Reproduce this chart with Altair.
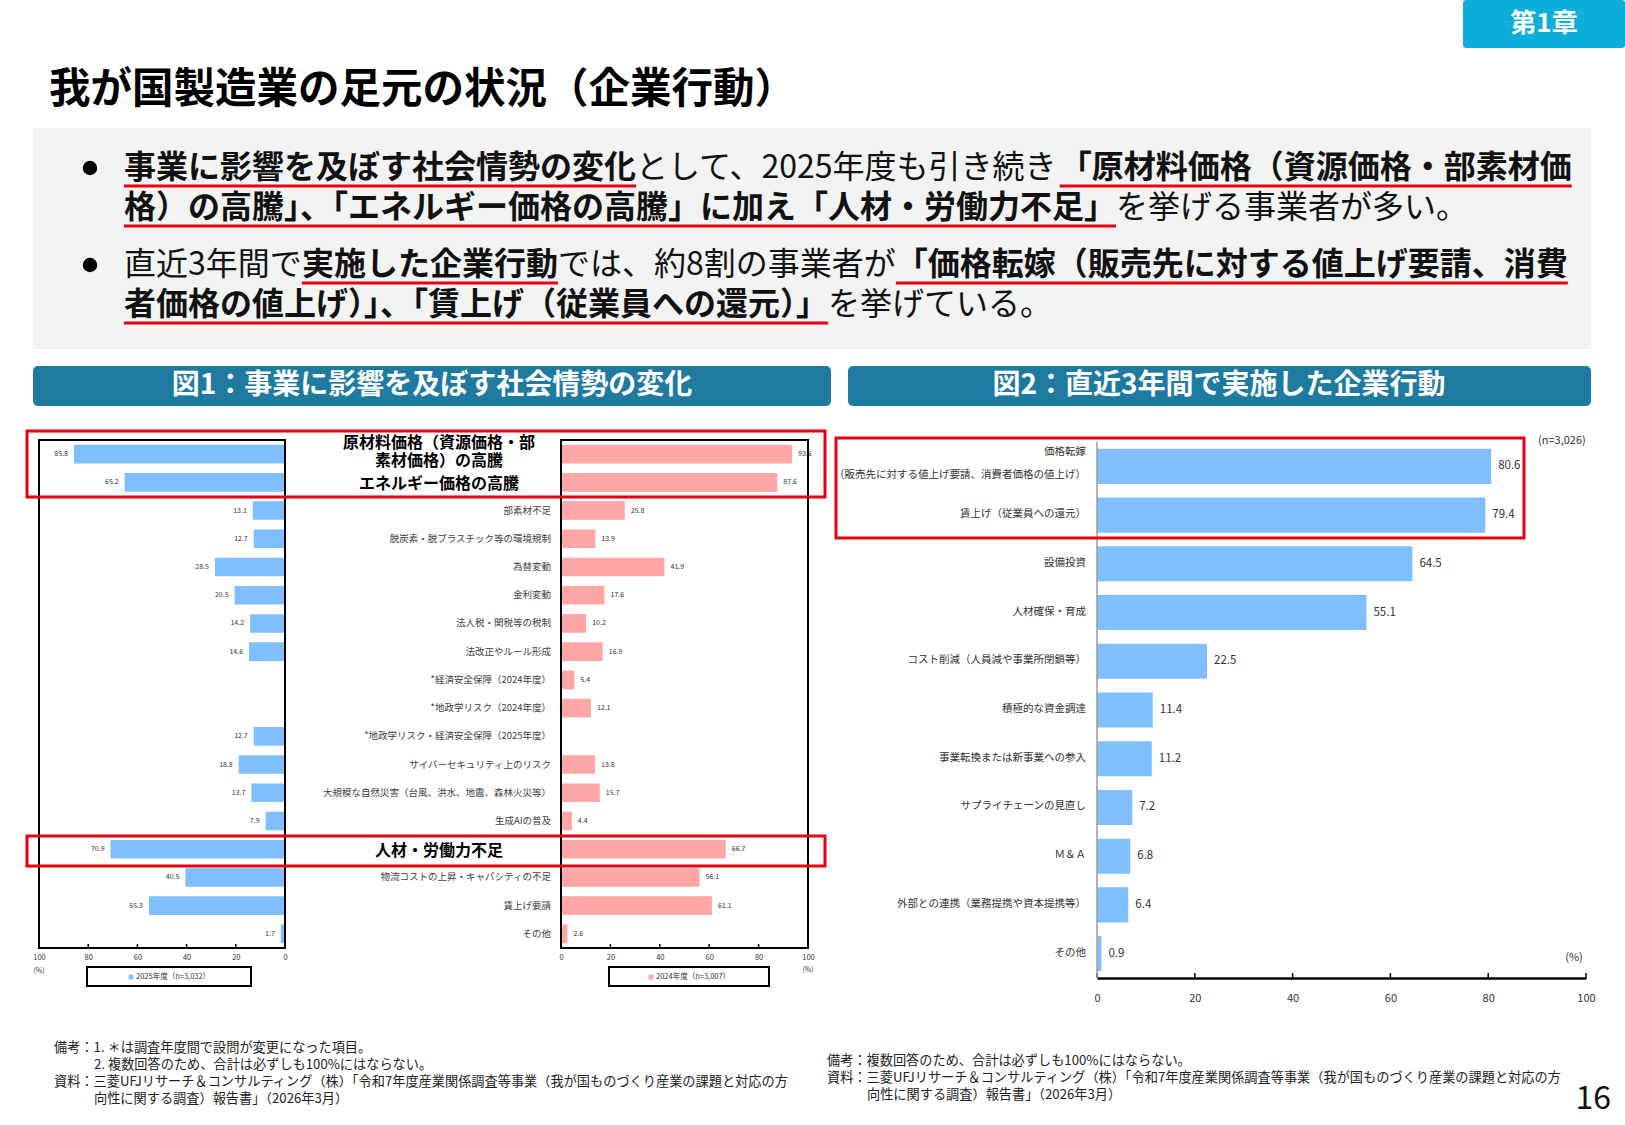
import altair as alt
import pandas as pd

FONT = "Noto Sans CJK JP"
W, H = 1625, 1125

# ---- 図1: 事業に影響を及ぼす社会情勢の変化（%） ----
factors = [
    "原材料価格（資源価格・部素材価格）の高騰",
    "エネルギー価格の高騰",
    "部素材不足",
    "脱炭素・脱プラスチック等の環境規制",
    "為替変動",
    "金利変動",
    "法人税・関税等の税制",
    "法改正やルール形成",
    "*経済安全保障（2024年度）",
    "*地政学リスク（2024年度）",
    "*地政学リスク・経済安全保障（2025年度）",
    "サイバーセキュリティ上のリスク",
    "大規模な自然災害（台風、洪水、地震、森林火災等）",
    "生成AIの普及",
    "人材・労働力不足",
    "物流コストの上昇・キャパシティの不足",
    "賃上げ要請",
    "その他",
]
share_2025 = [85.8, 65.2, 13.1, 12.7, 28.5, 20.5, 14.2, 14.6, None, None,
              12.7, 18.8, 13.7, 7.9, 70.9, 40.5, 55.3, 1.7]
share_2024 = [93.6, 87.6, 25.8, 13.9, 41.9, 17.6, 10.2, 16.9, 5.4, 12.1,
              None, 13.8, 15.7, 4.4, 66.7, 56.1, 61.1, 2.6]
key_factors = ["原材料価格（資源価格・部素材価格）の高騰", "エネルギー価格の高騰", "人材・労働力不足"]
factor_display = {"原材料価格（資源価格・部素材価格）の高騰": "原材料価格（資源価格・部\n素材価格）の高騰"}
legend_2025 = "2025年度（n=3,032）"
legend_2024 = "2024年度（n=3,007）"

# ---- 図2: 直近3年間で実施した企業行動（%） ----
actions = [
    "価格転嫁（販売先に対する値上げ要請、消費者価格の値上げ）",
    "賃上げ（従業員への還元）",
    "設備投資",
    "人材確保・育成",
    "コスト削減（人員減や事業所閉鎖等）",
    "積極的な資金調達",
    "事業転換または新事業への参入",
    "サプライチェーンの見直し",
    "Ｍ＆Ａ",
    "外部との連携（業務提携や資本提携等）",
    "その他",
]
action_share = [80.6, 79.4, 64.5, 55.1, 22.5, 11.4, 11.2, 7.2, 6.8, 6.4, 0.9]
action_display = {actions[0]: "価格転嫁\n（販売先に対する値上げ要請、消費者価格の値上げ）"}
n_actions = "(n=3,026)"

ticks = [0, 20, 40, 60, 80, 100]

# summary bullets: (text, emphasised)
bullet_lines = [
    [("事業に影響を及ぼす社会情勢の変化", True), ("として、2025年度も引き続き", False),
     ("「原材料価格（資源価格・部素材価", True)],
    [("格）の高騰」、「エネルギー価格の高騰」に加え「人材・労働力不足」", True),
     ("を挙げる事業者が多い。", False)],
    [("直近3年間で", False), ("実施した企業行動", True), ("では、約8割の事業者が", False),
     ("「価格転嫁（販売先に対する値上げ要請、消費", True)],
    [("者価格の値上げ）」、「賃上げ（従業員への還元）」", True), ("を挙げている。", False)],
]

BLUE = "#80BFFF"
PINK = "#FFA6A6"
RED = "#E60012"
HEAD = "#1F7AA0"

layers = []
one = pd.DataFrame({"k": [0]})


def text(s, x, y, size, color="#000000", weight="normal", align="left", **kw):
    layers.append(
        alt.Chart(pd.DataFrame({"t": [s]}))
        .mark_text(font=FONT, fontSize=size, fontWeight=weight, color=color,
                   align=align, baseline="middle", **kw)
        .encode(x=alt.value(x), y=alt.value(y), text="t:N")
    )


def rect(x1, y1, x2, y2, fill=None, stroke=None, sw=0, radius=0):
    props = {"cornerRadius": radius}
    if fill is None:
        props.update(fillOpacity=0)
    else:
        props.update(fill=fill)
    if stroke is not None:
        props.update(stroke=stroke, strokeWidth=sw)
    layers.append(
        alt.Chart(one).mark_rect(**props)
        .encode(x=alt.value(x1), x2=alt.value(x2), y=alt.value(y1), y2=alt.value(y2))
    )


def hline(x1, x2, y, color, width):
    layers.append(
        alt.Chart(one).mark_rule(color=color, strokeWidth=width)
        .encode(x=alt.value(x1), x2=alt.value(x2), y=alt.value(y))
    )


def vline(x, y1, y2, color, width):
    layers.append(
        alt.Chart(one).mark_rule(color=color, strokeWidth=width)
        .encode(x=alt.value(x), y=alt.value(y1), y2=alt.value(y2))
    )


OPEN = set("「（『【")
CLOSE = set("」）』】、。")


def em_width(s):
    """Approximate advance of a run in em, with adjacent punctuation trimmed."""
    w = 0.0
    for i, ch in enumerate(s):
        if ord(ch) < 0x2000:
            w += 0.56 if ch.isdigit() else 0.6
        else:
            w += 1.0
        if i + 1 < len(s):
            nxt = s[i + 1]
            if (ch in CLOSE and (nxt in CLOSE or nxt in OPEN)) or (ch in OPEN and nxt in OPEN):
                w -= 0.5
    return w


# ---- page header ----
rect(1463, 0, 1625, 48, fill="#0DAEDA", radius=3)
text("第1章", 1544, 24, 26, color="white", weight="bold", align="center")
text("我が国製造業の足元の状況（企業行動）", 49, 91, 41.5, weight="bold")

# ---- summary box ----
rect(33, 128, 1591, 349, fill="#F2F3F3")
BFS = 32
for i, (line, y) in enumerate(zip(bullet_lines, [168, 208, 265, 305])):
    if i in (0, 2):
        layers.append(
            alt.Chart(one).mark_circle(color="black", opacity=1, size=210)
            .encode(x=alt.value(90), y=alt.value(y))
        )
    x = 124
    for s, strong in line:
        w = em_width(s) * BFS
        text(s, x, y, BFS, color="#111111", weight="bold" if strong else "normal")
        if strong:
            hline(x, x + w, y + 18, RED, 3)
        x += w

# ---- section headers ----
rect(33, 366, 831, 406, fill=HEAD, radius=5)
text("図1：事業に影響を及ぼす社会情勢の変化", 432, 386, 28, color="white", weight="bold", align="center")
rect(848, 366, 1591, 406, fill=HEAD, radius=5)
text("図2：直近3年間で実施した企業行動", 1219, 386, 28, color="white", weight="bold", align="center")

# ---- 図1 butterfly chart ----
f25 = pd.DataFrame({"factor": factors, "v": share_2025}).dropna()
f24 = pd.DataFrame({"factor": factors, "v": share_2024}).dropna()
tick_df = pd.DataFrame({"t": ticks})


def fig1_y():
    return alt.Y("factor:N", axis=None,
                 scale=alt.Scale(domain=factors, range=[440, 948],
                                 paddingInner=0.34, paddingOuter=0.17))


def small_axis():
    return alt.Axis(values=ticks, orient="bottom", offset=948 - H, domain=False, grid=False,
                    ticks=False, labelFontSize=7.5, labelColor="#333333",
                    labelFont=FONT, labelFlush=False, labelOverlap=False, title=None,
                    labelPadding=5)


x25 = alt.Scale(domain=[0, 100], range=[285, 39])
x24 = alt.Scale(domain=[0, 100], range=[561, 808])

for xs, df, color, align, dx in [(x25, f25, BLUE, "right", -6), (x24, f24, PINK, "left", 6)]:
    layers.append(
        alt.Chart(df).mark_bar(color=color)
        .encode(x=alt.X("v:Q", scale=xs, axis=small_axis()), y=fig1_y())
    )
    layers.append(
        alt.Chart(df).mark_text(font=FONT, fontSize=7, color="#333333", align=align, dx=dx)
        .encode(x=alt.X("v:Q", scale=xs, axis=None), y=fig1_y(),
                text=alt.Text("v:Q", format=".1f"))
    )
    # inward tick marks on the value axis
    layers.append(
        alt.Chart(tick_df).mark_rule(color="black", strokeWidth=1.5)
        .encode(x=alt.X("t:Q", scale=xs, axis=None), y=alt.value(944), y2=alt.value(948))
    )

rect(39, 440, 285, 948, stroke="black", sw=2)
rect(561, 440, 808, 948, stroke="black", sw=2)

labels = pd.DataFrame({"factor": factors})
layers.append(
    alt.Chart(labels[~labels.factor.isin(key_factors)])
    .mark_text(font=FONT, fontSize=9.5, color="#404040", align="right", baseline="middle")
    .encode(x=alt.value(551), y=fig1_y(), text="factor:N")
)

# emphasised factor names, wrapped ones drawn line by line
key_rows = []
for f in key_factors:
    parts = factor_display.get(f, f).split("\n")
    for i, p in enumerate(parts):
        key_rows.append({"factor": f, "line": p, "i": i, "n": len(parts)})
key_df = pd.DataFrame(key_rows)
for (i, n), grp in key_df.groupby(["i", "n"]):
    dy = (i - (n - 1) / 2) * 18.5 + (2 if n == 1 else -2)
    layers.append(
        alt.Chart(grp)
        .mark_text(font=FONT, fontSize=16, fontWeight="bold", color="black", align="center",
                   baseline="middle", dy=dy)
        .encode(x=alt.value(439), y=fig1_y(), text="line:N")
    )

text("(%)", 39, 971, 7, color="#333333", align="center")
text("(%)", 808, 970, 7, color="#333333", align="center")

rect(87, 967, 251, 986, fill="white", stroke="black", sw=2)
layers.append(alt.Chart(one).mark_square(color=BLUE, opacity=1, size=22)
              .encode(x=alt.value(131), y=alt.value(977)))
text(legend_2025, 136, 977, 7.5, color="#333333")
rect(609, 967, 769, 986, fill="white", stroke="black", sw=2)
layers.append(alt.Chart(one).mark_square(color=PINK, opacity=1, size=22)
              .encode(x=alt.value(651), y=alt.value(977)))
text(legend_2024, 656, 977, 7.5, color="#333333")

# highlight frames
rect(27, 431, 825, 497, stroke=RED, sw=3)
rect(27, 836, 825, 866, stroke=RED, sw=3)

# ---- 図2 bar chart ----
a = pd.DataFrame({"action": actions, "v": action_share})


def fig2_y():
    return alt.Y("action:N", axis=None,
                 scale=alt.Scale(domain=actions, range=[442, 978],
                                 paddingInner=0.28, paddingOuter=0.14))


x2 = alt.Scale(domain=[0, 100], range=[1097, 1586])
layers.append(
    alt.Chart(a).mark_bar(color=BLUE)
    .encode(
        x=alt.X("v:Q", scale=x2,
                axis=alt.Axis(values=ticks, orient="bottom", offset=978 - H, grid=False,
                              domainColor="black", domainWidth=2.5, ticks=False,
                              labelFontSize=11, labelColor="#333333", labelFont=FONT,
                              labelFlush=False, labelOverlap=False, labelPadding=14,
                              title=None)),
        y=fig2_y(),
    )
)
layers.append(
    alt.Chart(tick_df).mark_rule(color="black", strokeWidth=1.5)
    .encode(x=alt.X("t:Q", scale=x2, axis=None), y=alt.value(973), y2=alt.value(978))
)
layers.append(
    alt.Chart(a).mark_text(font=FONT, fontSize=11.5, color="#333333", align="left", dx=7)
    .encode(x=alt.X("v:Q", scale=x2, axis=None), y=fig2_y(), text=alt.Text("v:Q", format=".1f"))
)

act_rows = []
for f in actions:
    parts = action_display.get(f, f).split("\n")
    for i, p in enumerate(parts):
        act_rows.append({"action": f, "line": p, "i": i, "n": len(parts)})
act_df = pd.DataFrame(act_rows)
for (i, n), grp in act_df.groupby(["i", "n"]):
    dy = (i - (n - 1) / 2) * 23 + (-1 if n == 1 else -2.5)
    layers.append(
        alt.Chart(grp)
        .mark_text(font=FONT, fontSize=10.5, color="#333333", align="right",
                   baseline="middle", dy=dy)
        .encode(x=alt.value(1086), y=fig2_y(), text="line:N")
    )

vline(1097, 442, 978, "#9A9A9A", 1.5)
text(n_actions, 1538, 441, 11, color="#333333")
text("(%)", 1574, 958, 11, color="#333333", align="center")
rect(836, 438, 1524, 538, stroke=RED, sw=3)

# ---- notes & sources ----
NFS = 13.2
notes_left = [
    (54, 1048, "備考：1. ＊は調査年度間で設問が変更になった項目。"),
    (94, 1065, "2. 複数回答のため、合計は必ずしも100%にはならない。"),
    (54, 1082, "資料：三菱UFJリサーチ＆コンサルティング（株）「令和7年度産業関係調査等事業（我が国ものづくり産業の課題と対応の方"),
    (94, 1099, "向性に関する調査）報告書」（2026年3月）"),
]
notes_right = [
    (827, 1061, "備考：複数回答のため、合計は必ずしも100%にはならない。"),
    (827, 1078, "資料：三菱UFJリサーチ＆コンサルティング（株）「令和7年度産業関係調査等事業（我が国ものづくり産業の課題と対応の方"),
    (867, 1095, "向性に関する調査）報告書」（2026年3月）"),
]
for x, y, s in notes_left + notes_right:
    text(s, x, y, NFS, color="#222222")

text("16", 1611, 1099, 32, color="#111111", align="right")

chart = (
    alt.layer(*layers)
    .properties(width=W, height=H, padding=0, autosize="none", background="white")
    .resolve_scale(x="independent", y="independent")
    .configure_view(stroke=None)
)

chart.save("out.html", embed_options={"renderer": "svg", "actions": False})
